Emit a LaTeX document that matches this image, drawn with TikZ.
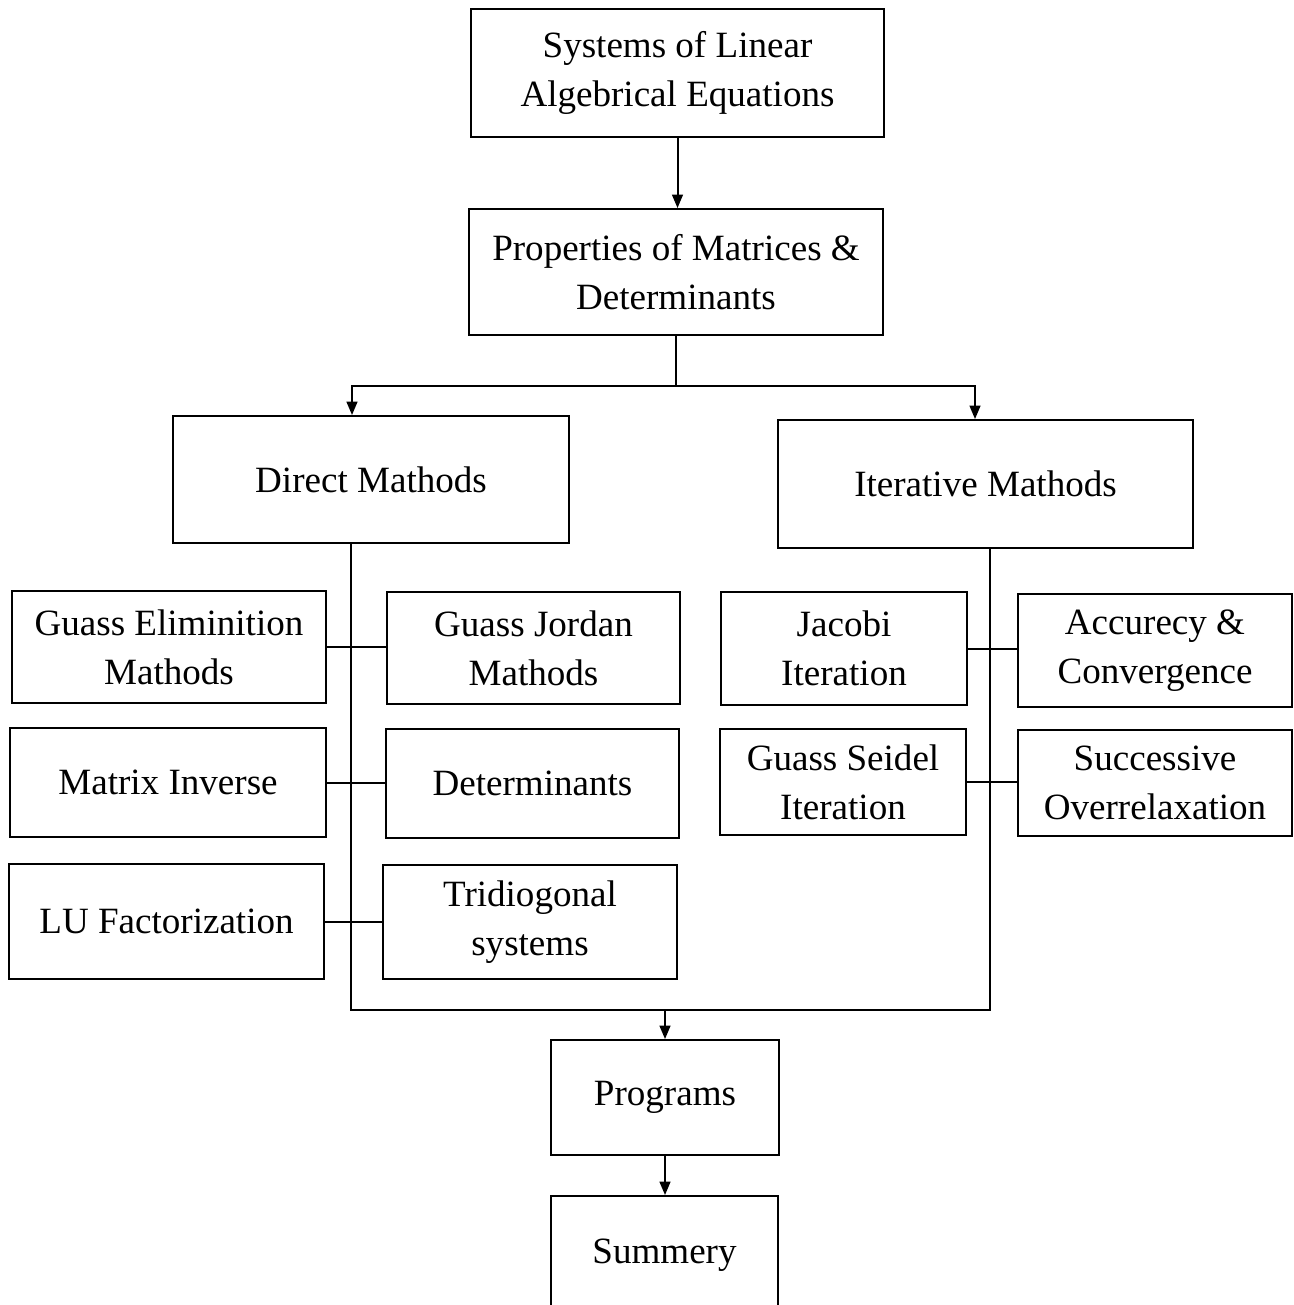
\documentclass[tikz,border=0pt]{standalone}
\usepackage{fontspec}
\setmainfont{Liberation Serif}
\usetikzlibrary{arrows.meta}
\newcommand\bx[6]{\node[box, minimum width={(#4-#2)*0.75pt}, minimum height={(#5-#3)*0.75pt}] (#1) at ({(#2+#4)/2},{(#3+#5)/2}) {#6};}
\begin{document}
\begin{tikzpicture}[x=0.75pt,y=-0.75pt,
  box/.style={draw=black, line width=1.4pt, inner sep=0pt, align=center, font=\fontsize{27.8}{36.5}\selectfont},
  conn/.style={line width=1.5pt},
  arr/.style={line width=1.5pt, -{Triangle[length=10pt,width=8pt]}}]
\useasboundingbox (0,0) rectangle (1293,1305);
\fill[white] (0,0) rectangle (1293,1305);
\bx{top}{471}{9}{884}{137}{Systems of Linear\\Algebrical Equations}
\bx{prop}{469}{209}{883}{335}{Properties of Matrices \&\\Determinants}
\bx{direct}{173}{416}{569}{543}{Direct Mathods}
\bx{iter}{778}{420}{1193}{548}{Iterative Mathods}
\bx{ge}{12}{591}{326}{703}{Guass Eliminition\\Mathods}
\bx{gj}{387}{592}{680}{704}{Guass Jordan\\Mathods}
\bx{mi}{10}{728}{326}{837}{Matrix Inverse}
\bx{det}{386}{729}{679}{838}{Determinants}
\bx{lu}{9}{864}{324}{979}{LU Factorization}
\bx{tri}{383}{865}{677}{979}{Tridiogonal\\systems}
\bx{jac}{721}{592}{967}{705}{Jacobi\\Iteration}
\bx{acc}{1018}{594}{1292}{707}{Accurecy \&\\Convergence}
\bx{gs}{720}{729}{966}{835}{Guass Seidel\\Iteration}
\bx{sor}{1018}{730}{1292}{836}{Successive\\Overrelaxation}
\bx{prog}{551}{1040}{779}{1155}{Programs}
\bx{sum}{551}{1196}{778}{1380}{}
\node[font=\fontsize{27.8}{36.5}\selectfont] (sumt) at (664.5,1255) {Summery};
\coordinate (jl) at (352,386);
\coordinate (jr) at (975,386);
\coordinate (sl) at (351,1010);
\coordinate (sr) at (990,1010);
\draw[arr] (top.south) -- (top.south |- prop.north);
\draw[conn] (prop.south) -- (prop.south |- jl);
\draw[arr] (prop.south |- jl) -- (jl) -- (jl |- direct.north);
\draw[arr] (prop.south |- jr) -- (jr) -- (jr |- iter.north);
\draw[conn] (sl |- direct.south) -- (sl) -- (sr) -- (sr |- iter.south);
\draw[arr] (prog.north |- sl) -- (prog.north);
\draw[arr] (prog.south) -- (prog.south |- sum.north);
\draw[conn] (ge.east) -- (ge.east -| gj.west);
\draw[conn] (mi.east) -- (mi.east -| det.west);
\draw[conn] (lu.east) -- (lu.east -| tri.west);
\draw[conn] (jac.east) -- (jac.east -| acc.west);
\draw[conn] (gs.east) -- (gs.east -| sor.west);
\end{tikzpicture}
\end{document}
